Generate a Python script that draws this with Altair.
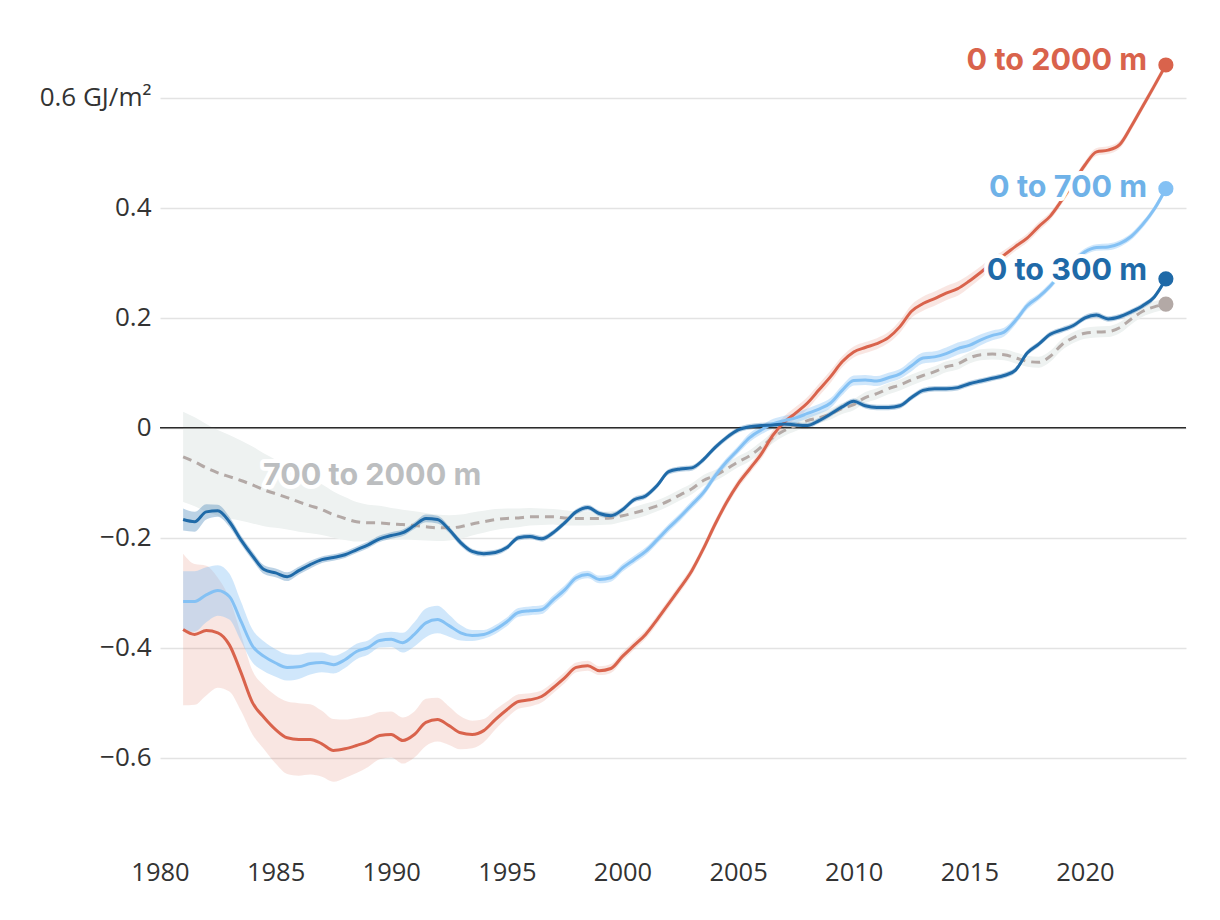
import altair as alt
import pandas as pd

# half-year grid, 1981.0 .. 2023.5
YEARS = [1981 + 0.5 * i for i in range(86)]

# 0 to 2000 m (GJ/m2)
RED = [-0.367, -0.376, -0.369, -0.373, -0.395, -0.445, -0.500, -0.527, -0.549, -0.564,
       -0.567, -0.567, -0.575, -0.587, -0.584, -0.578, -0.571, -0.560, -0.558, -0.569,
       -0.558, -0.536, -0.531, -0.542, -0.555, -0.558, -0.551, -0.531, -0.513, -0.498,
       -0.495, -0.489, -0.473, -0.455, -0.436, -0.433, -0.442, -0.438, -0.416, -0.396,
       -0.376, -0.349, -0.320, -0.291, -0.260, -0.220, -0.176, -0.136, -0.102, -0.075,
       -0.048, -0.014, 0.010, 0.027, 0.045, 0.069, 0.093, 0.120, 0.138, 0.146,
       0.153, 0.164, 0.184, 0.212, 0.226, 0.235, 0.245, 0.253, 0.267, 0.283,
       0.300, 0.314, 0.330, 0.345, 0.366, 0.385, 0.414, 0.446, 0.478, 0.502,
       0.505, 0.515, 0.548, 0.585, 0.622, 0.660]

# 0 to 700 m
LIGHT = [-0.316, -0.316, -0.304, -0.296, -0.307, -0.352, -0.397, -0.416, -0.428, -0.436,
         -0.435, -0.429, -0.427, -0.431, -0.422, -0.407, -0.400, -0.387, -0.385, -0.391,
         -0.376, -0.355, -0.349, -0.360, -0.373, -0.378, -0.376, -0.367, -0.353, -0.336,
         -0.333, -0.331, -0.313, -0.295, -0.273, -0.267, -0.276, -0.273, -0.255, -0.240,
         -0.225, -0.204, -0.182, -0.162, -0.140, -0.118, -0.088, -0.062, -0.040, -0.018,
         -0.004, 0.007, 0.013, 0.018, 0.026, 0.034, 0.045, 0.068, 0.086, 0.087,
         0.085, 0.091, 0.098, 0.113, 0.127, 0.129, 0.135, 0.144, 0.150, 0.160,
         0.168, 0.174, 0.195, 0.222, 0.238, 0.258, 0.282, 0.302, 0.320, 0.328,
         0.329, 0.335, 0.348, 0.370, 0.398, 0.435]

# 0 to 300 m
DARK = [-0.167, -0.171, -0.153, -0.151, -0.171, -0.204, -0.233, -0.258, -0.264, -0.271,
        -0.260, -0.249, -0.240, -0.236, -0.231, -0.222, -0.213, -0.202, -0.196, -0.191,
        -0.178, -0.165, -0.167, -0.185, -0.209, -0.225, -0.229, -0.227, -0.218, -0.200,
        -0.198, -0.202, -0.191, -0.173, -0.153, -0.145, -0.156, -0.160, -0.149, -0.131,
        -0.124, -0.105, -0.080, -0.075, -0.073, -0.058, -0.036, -0.018, -0.004, 0.002,
        0.004, 0.005, 0.007, 0.005, 0.004, 0.013, 0.025, 0.038, 0.048, 0.040,
        0.037, 0.037, 0.040, 0.055, 0.068, 0.071, 0.071, 0.073, 0.080, 0.085,
        0.090, 0.095, 0.105, 0.136, 0.152, 0.170, 0.178, 0.186, 0.200, 0.205,
        0.198, 0.202, 0.211, 0.222, 0.238, 0.271]

# 700 to 2000 m
GRAY = [-0.053, -0.062, -0.073, -0.082, -0.089, -0.096, -0.104, -0.113, -0.120, -0.127,
        -0.135, -0.142, -0.149, -0.158, -0.165, -0.171, -0.173, -0.173, -0.175, -0.176,
        -0.178, -0.180, -0.182, -0.182, -0.180, -0.175, -0.171, -0.167, -0.165, -0.164,
        -0.162, -0.162, -0.162, -0.164, -0.165, -0.165, -0.165, -0.164, -0.160, -0.155,
        -0.149, -0.142, -0.133, -0.122, -0.111, -0.096, -0.087, -0.075, -0.062, -0.051,
        -0.035, -0.018, -0.005, 0.004, 0.013, 0.018, 0.025, 0.035, 0.042, 0.055,
        0.062, 0.071, 0.078, 0.087, 0.095, 0.102, 0.111, 0.116, 0.127, 0.133,
        0.134, 0.133, 0.127, 0.121, 0.119, 0.130, 0.151, 0.164, 0.172, 0.174,
        0.175, 0.182, 0.198, 0.212, 0.220, 0.225]

# uncertainty half-widths
RED_U = [0.138, 0.128, 0.118, 0.100, 0.085, 0.070, 0.058, 0.058, 0.062, 0.066,
         0.066, 0.064, 0.060, 0.057, 0.053, 0.050, 0.046, 0.043, 0.042, 0.042,
         0.042, 0.043, 0.040, 0.035, 0.030, 0.025, 0.021, 0.018, 0.015, 0.013,
         0.012, 0.011, 0.010, 0.010, 0.009, 0.009, 0.008, 0.008, 0.008, 0.008,
         0.008, 0.008, 0.008, 0.008, 0.008, 0.008, 0.008, 0.008, 0.008, 0.008,
         0.009, 0.010, 0.011, 0.011, 0.011, 0.011, 0.011, 0.010, 0.010, 0.010,
         0.010, 0.010, 0.011, 0.012, 0.013, 0.013, 0.013, 0.013, 0.012, 0.011,
         0.010, 0.009, 0.008, 0.008, 0.008, 0.007, 0.007, 0.007, 0.007, 0.007,
         0.007, 0.007, 0.007, 0.007, 0.007, 0.007]
LIGHT_U = [0.055, 0.055, 0.050, 0.046, 0.042, 0.036, 0.030, 0.027, 0.025, 0.024,
           0.022, 0.020, 0.018, 0.016, 0.015, 0.014, 0.013, 0.013, 0.014, 0.018,
           0.022, 0.026, 0.025, 0.020, 0.014, 0.010, 0.008, 0.008, 0.008, 0.008,
           0.008, 0.008, 0.008, 0.008, 0.007, 0.007, 0.007, 0.007, 0.007, 0.007,
           0.007, 0.007, 0.007, 0.007, 0.007, 0.007, 0.007, 0.007, 0.007, 0.008,
           0.008, 0.009, 0.009, 0.009, 0.009, 0.009, 0.009, 0.009, 0.009, 0.009,
           0.009, 0.009, 0.009, 0.010, 0.010, 0.010, 0.011, 0.011, 0.011, 0.010,
           0.009, 0.008, 0.007, 0.007, 0.006, 0.006, 0.006, 0.006, 0.006, 0.006,
           0.006, 0.006, 0.006, 0.006, 0.006, 0.006]
DARK_U = [0.020, 0.018, 0.014, 0.011, 0.009, 0.008, 0.008, 0.008, 0.008, 0.008,
          0.007, 0.007, 0.006, 0.006, 0.006, 0.006, 0.006, 0.006, 0.006, 0.006,
          0.006, 0.007, 0.007, 0.006, 0.006, 0.005, 0.005, 0.005, 0.005, 0.005,
          0.005, 0.005, 0.005, 0.005, 0.005, 0.005, 0.005, 0.005, 0.005, 0.005,
          0.005, 0.005, 0.005, 0.005, 0.005, 0.005, 0.005, 0.005, 0.005, 0.005,
          0.005, 0.005, 0.005, 0.005, 0.005, 0.005, 0.005, 0.005, 0.005, 0.005,
          0.005, 0.005, 0.005, 0.005, 0.005, 0.005, 0.005, 0.005, 0.005, 0.005,
          0.005, 0.005, 0.005, 0.005, 0.005, 0.005, 0.005, 0.005, 0.005, 0.005,
          0.005, 0.005, 0.005, 0.005, 0.005, 0.005]
GRAY_U = [0.082, 0.081, 0.080, 0.078, 0.076, 0.073, 0.070, 0.066, 0.062, 0.058,
          0.054, 0.050, 0.046, 0.042, 0.039, 0.036, 0.033, 0.031, 0.029, 0.027,
          0.026, 0.025, 0.024, 0.023, 0.022, 0.021, 0.020, 0.019, 0.018, 0.017,
          0.016, 0.015, 0.014, 0.014, 0.013, 0.013, 0.012, 0.012, 0.011, 0.011,
          0.011, 0.010, 0.010, 0.010, 0.010, 0.010, 0.010, 0.010, 0.010, 0.010,
          0.010, 0.010, 0.010, 0.010, 0.010, 0.010, 0.010, 0.010, 0.010, 0.010,
          0.010, 0.010, 0.010, 0.010, 0.010, 0.010, 0.010, 0.010, 0.010, 0.010,
          0.010, 0.010, 0.010, 0.010, 0.010, 0.010, 0.010, 0.010, 0.010, 0.010,
          0.010, 0.010, 0.010, 0.010, 0.010, 0.010]

X_TICKS = [1980, 1985, 1990, 1995, 2000, 2005, 2010, 2015, 2020]
Y_TICKS = [-0.6, -0.4, -0.2, 0, 0.2, 0.4, 0.6]

LABELS = ["0 to 2000 m", "0 to 700 m", "0 to 300 m", "700 to 2000 m"]
LABEL_X = [2022.69, 2022.69, 2022.69, 1984.45]
LABEL_Y = [0.651, 0.420, 0.269, -0.1036]
LABEL_ALIGN = ["right", "right", "right", "left"]

C_RED, C_LIGHT, C_DARK, C_GRAY = "#d9634c", "#84c1f4", "#1f6aa8", "#b3a9a6"
LABEL_COLORS = [C_RED, "#6fb2e8", C_DARK, "#bcbec0"]

AXIS_FONT = "Open Sans"
LABEL_FONT = "Inter"

X = alt.X("year:Q",
          scale=alt.Scale(domain=[1980, 2024.37], nice=False, zero=False),
          axis=alt.Axis(values=X_TICKS, format="d", grid=False, domain=False, ticks=False,
                        labelFontSize=25.5, labelFont=AXIS_FONT, labelColor="#333333",
                        labelPadding=20, title=None, labelFlush=False))
YSCALE = alt.Scale(domain=[-0.75, 0.72], nice=False, zero=False)
YAXIS = alt.Axis(values=Y_TICKS, grid=True, gridColor="#e3e3e3", gridWidth=1.5,
                 domain=False, ticks=False, labelFontSize=26, labelFont=AXIS_FONT,
                 labelColor="#333333", labelPadding=9, title=None,
                 labelExpr="abs(datum.value - 0.6) < 1e-6 ? '0.6 GJ/m²' : (datum.value == 0 ? '0' : replace(format(datum.value, '.1f'), '-', '\u2212'))")


def Y(field):
    return alt.Y(field, scale=YSCALE, axis=YAXIS)


def band(vals, half, color, opacity):
    df = pd.DataFrame({"year": YEARS,
                       "lo": [v - h for v, h in zip(vals, half)],
                       "hi": [v + h for v, h in zip(vals, half)]})
    return alt.Chart(df).mark_area(color=color, opacity=opacity, interpolate="monotone").encode(
        x=X, y=Y("lo:Q"), y2="hi:Q")


def line(vals, color, dash=None):
    df = pd.DataFrame({"year": YEARS, "v": vals})
    kw = dict(color=color, strokeWidth=3, interpolate="monotone")
    if dash:
        kw["strokeDash"] = dash
    return alt.Chart(df).mark_line(**kw).encode(x=X, y=Y("v:Q"))


layers = [
    band(GRAY, GRAY_U, "#eef2f1", 1.0),
    band(RED, RED_U, C_RED, 0.16),
    band(LIGHT, LIGHT_U, C_LIGHT, 0.38),
    band(DARK, DARK_U, C_DARK, 0.3),
    alt.Chart(pd.DataFrame({"v": [0]})).mark_rule(color="#2b2b2b", strokeWidth=1.6).encode(y=Y("v:Q")),
    line(GRAY, C_GRAY, [9, 6]),
    line(RED, C_RED),
    line(LIGHT, C_LIGHT),
    line(DARK, C_DARK),
]

dots = pd.DataFrame({"year": [YEARS[-1]] * 4,
                     "v": [RED[-1], LIGHT[-1], DARK[-1], GRAY[-1]],
                     "c": [C_RED, C_LIGHT, C_DARK, C_GRAY]})
layers.append(alt.Chart(dots).mark_circle(size=230, opacity=1).encode(
    x=X, y=Y("v:Q"), color=alt.Color("c:N", scale=None)))

for i, txt in enumerate(LABELS):
    df = pd.DataFrame({"year": [LABEL_X[i]], "v": [LABEL_Y[i]], "t": [txt]})
    common = dict(align=LABEL_ALIGN[i], baseline="alphabetic", font=LABEL_FONT,
                  fontWeight="bold", fontSize=30.5)
    layers.append(alt.Chart(df).mark_text(color="white", stroke="white", strokeWidth=8,
                                          strokeJoin="round", **common).encode(
        x=X, y=Y("v:Q"), text="t:N"))
    layers.append(alt.Chart(df).mark_text(color=LABEL_COLORS[i], **common).encode(
        x=X, y=Y("v:Q"), text="t:N"))

chart = alt.layer(*layers).properties(
    width=1026, height=808,
    padding={"left": 160, "top": 32, "right": 34, "bottom": 80},
    autosize=alt.AutoSizeParams(type="none"),
    background="white",
).configure_view(stroke=None)

chart.save("out.html", embed_options={"renderer": "svg", "actions": False})
